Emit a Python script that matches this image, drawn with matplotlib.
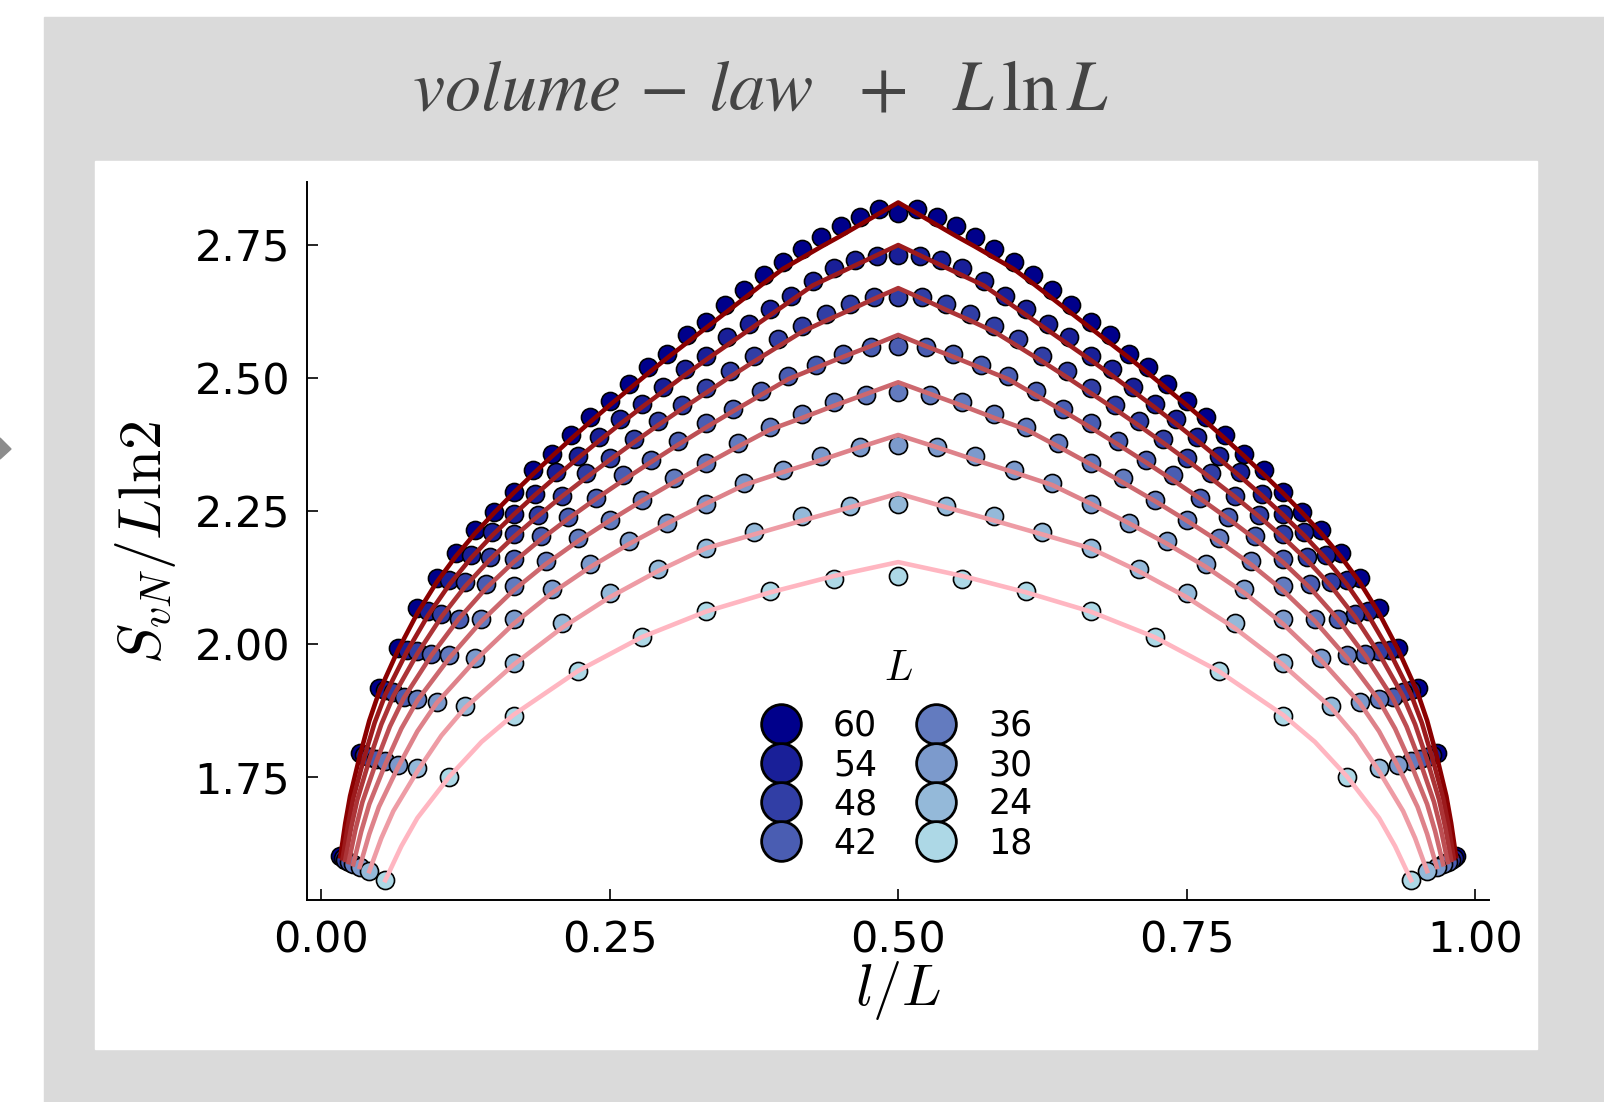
import numpy as np
import matplotlib
matplotlib.use('Agg')
import matplotlib.pyplot as plt
from matplotlib.patches import Rectangle, Polygon
from matplotlib.ticker import FormatStrFormatter

plt.rcParams['mathtext.fontset'] = 'cm'

W, H = 1604, 1102

# system sizes, plotted from largest to smallest
sizes = [60, 54, 48, 42, 36, 30, 24, 18]

data = {
    60: [1.600, 1.794, 1.916, 1.992, 2.066, 2.123, 2.170, 2.213, 2.248, 2.285,
         2.327, 2.356, 2.392, 2.426, 2.455, 2.487, 2.520, 2.545, 2.580, 2.605,
         2.636, 2.664, 2.692, 2.717, 2.742, 2.765, 2.784, 2.802, 2.816, 2.809,
         2.816, 2.802, 2.784, 2.765, 2.742, 2.717, 2.692, 2.664, 2.636, 2.605,
         2.580, 2.545, 2.520, 2.487, 2.455, 2.426, 2.392, 2.356, 2.327, 2.285,
         2.248, 2.213, 2.170, 2.123, 2.066, 1.992, 1.916, 1.794, 1.600],
    54: [1.596, 1.790, 1.912, 1.988, 2.062, 2.119, 2.166, 2.209, 2.244, 2.281,
         2.323, 2.352, 2.388, 2.422, 2.451, 2.483, 2.516, 2.541, 2.576, 2.601,
         2.628, 2.654, 2.681, 2.705, 2.720, 2.728, 2.730,
         2.728, 2.720, 2.705, 2.681, 2.654, 2.628, 2.601, 2.576, 2.541, 2.516,
         2.483, 2.451, 2.422, 2.388, 2.352, 2.323, 2.281, 2.244, 2.209, 2.166,
         2.119, 2.062, 1.988, 1.912, 1.790, 1.596],
    48: [1.593, 1.787, 1.909, 1.985, 2.056, 2.116, 2.163, 2.206, 2.241, 2.278,
         2.320, 2.349, 2.385, 2.419, 2.448, 2.480, 2.513, 2.541, 2.573, 2.596,
         2.620, 2.638, 2.651, 2.652,
         2.651, 2.638, 2.620, 2.596, 2.573, 2.541, 2.513, 2.480, 2.448, 2.419,
         2.385, 2.349, 2.320, 2.278, 2.241, 2.206, 2.163, 2.116, 2.056, 1.985,
         1.909, 1.787, 1.593],
    42: [1.590, 1.783, 1.900, 1.981, 2.047, 2.112, 2.159, 2.202, 2.237, 2.274,
         2.316, 2.345, 2.381, 2.415, 2.441, 2.474, 2.503, 2.524, 2.545, 2.558,
         2.560,
         2.558, 2.545, 2.524, 2.503, 2.474, 2.441, 2.415, 2.381, 2.345, 2.316,
         2.274, 2.237, 2.202, 2.159, 2.112, 2.047, 1.981, 1.900, 1.783, 1.590],
    36: [1.586, 1.779, 1.896, 1.978, 2.047, 2.108, 2.155, 2.198, 2.233, 2.270,
         2.312, 2.340, 2.377, 2.407, 2.432, 2.454, 2.467, 2.473,
         2.467, 2.454, 2.432, 2.407, 2.377, 2.340, 2.312, 2.270, 2.233, 2.198,
         2.155, 2.108, 2.047, 1.978, 1.896, 1.779, 1.586],
    30: [1.580, 1.772, 1.890, 1.972, 2.046, 2.103, 2.150, 2.193, 2.227, 2.263,
         2.302, 2.327, 2.353, 2.370, 2.373,
         2.370, 2.353, 2.327, 2.302, 2.263, 2.227, 2.193, 2.150, 2.103, 2.046,
         1.972, 1.890, 1.772, 1.580],
    24: [1.572, 1.766, 1.882, 1.964, 2.038, 2.095, 2.140, 2.180, 2.210, 2.239,
         2.258, 2.263,
         2.258, 2.239, 2.210, 2.180, 2.140, 2.095, 2.038, 1.964, 1.882, 1.766,
         1.572],
    18: [1.555, 1.749, 1.863, 1.948, 2.012, 2.062, 2.098, 2.121, 2.127,
         2.121, 2.098, 2.062, 2.012, 1.948, 1.863, 1.749, 1.555],
}

# fitted curves (volume-law + L ln L), read on a finer grid near both ends:
# l = 1, 1.25, 1.5, 2, 2.5, 3, 4, ..., L-3, L-2.5, L-2, L-1.5, L-1.25, L-1
fit_ends = [1, 1.25, 1.5, 2, 2.5]
fits = {
    60: [1.600, 1.662, 1.713, 1.788, 1.855, 1.908, 1.988, 2.057, 2.115, 2.164,
         2.207, 2.246, 2.283, 2.318, 2.352, 2.385, 2.417, 2.448, 2.478, 2.508,
         2.537, 2.565, 2.593, 2.621, 2.649, 2.677, 2.704, 2.725, 2.746, 2.766,
         2.787, 2.808, 2.829,
         2.808, 2.787, 2.766, 2.746, 2.725, 2.704, 2.677, 2.649, 2.621, 2.593,
         2.565, 2.537, 2.508, 2.478, 2.448, 2.417, 2.385, 2.352, 2.318, 2.283,
         2.246, 2.207, 2.164, 2.115, 2.057, 1.988, 1.908, 1.855, 1.788, 1.713,
         1.662, 1.600],
    54: [1.596, 1.658, 1.709, 1.784, 1.851, 1.904, 1.984, 2.053, 2.111, 2.160,
         2.203, 2.242, 2.279, 2.314, 2.348, 2.381, 2.413, 2.444, 2.474, 2.504,
         2.533, 2.561, 2.589, 2.617, 2.645, 2.673, 2.692, 2.711, 2.730, 2.749,
         2.730, 2.711, 2.692, 2.673, 2.645, 2.617, 2.589, 2.561, 2.533, 2.504,
         2.474, 2.444, 2.413, 2.381, 2.348, 2.314, 2.279, 2.242, 2.203, 2.160,
         2.111, 2.053, 1.984, 1.904, 1.851, 1.784, 1.709, 1.658, 1.596],
    48: [1.593, 1.655, 1.706, 1.781, 1.848, 1.901, 1.981, 2.050, 2.108, 2.157,
         2.200, 2.239, 2.276, 2.311, 2.345, 2.378, 2.410, 2.441, 2.471, 2.501,
         2.530, 2.558, 2.586, 2.607, 2.627, 2.648, 2.668,
         2.648, 2.627, 2.607, 2.586, 2.558, 2.530, 2.501, 2.471, 2.441, 2.410,
         2.378, 2.345, 2.311, 2.276, 2.239, 2.200, 2.157, 2.108, 2.050, 1.981,
         1.901, 1.848, 1.781, 1.706, 1.655, 1.593],
    42: [1.589, 1.651, 1.702, 1.777, 1.844, 1.897, 1.977, 2.046, 2.104, 2.153,
         2.196, 2.235, 2.272, 2.307, 2.341, 2.374, 2.406, 2.437, 2.467, 2.497,
         2.518, 2.539, 2.559, 2.580,
         2.559, 2.539, 2.518, 2.497, 2.467, 2.437, 2.406, 2.374, 2.341, 2.307,
         2.272, 2.235, 2.196, 2.153, 2.104, 2.046, 1.977, 1.897, 1.844, 1.777,
         1.702, 1.651, 1.589],
    36: [1.585, 1.647, 1.698, 1.773, 1.840, 1.893, 1.973, 2.042, 2.100, 2.149,
         2.192, 2.231, 2.268, 2.303, 2.337, 2.370, 2.402, 2.424, 2.447, 2.469,
         2.491,
         2.469, 2.447, 2.424, 2.402, 2.370, 2.337, 2.303, 2.268, 2.231, 2.192,
         2.149, 2.100, 2.042, 1.973, 1.893, 1.840, 1.773, 1.698, 1.647, 1.585],
    30: [1.580, 1.642, 1.693, 1.768, 1.835, 1.888, 1.968, 2.037, 2.095, 2.144,
         2.187, 2.226, 2.263, 2.298, 2.322, 2.345, 2.369, 2.392,
         2.369, 2.345, 2.322, 2.298, 2.263, 2.226, 2.187, 2.144, 2.095, 2.037,
         1.968, 1.888, 1.835, 1.768, 1.693, 1.642, 1.580],
    24: [1.572, 1.634, 1.685, 1.760, 1.827, 1.880, 1.960, 2.029, 2.087, 2.136,
         2.179, 2.205, 2.231, 2.256, 2.282,
         2.256, 2.231, 2.205, 2.179, 2.136, 2.087, 2.029, 1.960, 1.880, 1.827,
         1.760, 1.685, 1.634, 1.572],
    18: [1.555, 1.619, 1.672, 1.750, 1.815, 1.866, 1.948, 2.012, 2.060, 2.096,
         2.127, 2.153,
         2.127, 2.096, 2.060, 2.012, 1.948, 1.866, 1.815, 1.750, 1.672, 1.619,
         1.555],
}

# darkblue -> lightblue for markers, darkred -> lightpink for fits
marker_colors = ['#00008b', '#191f98', '#313ea5', '#4a5db2',
                 '#637bbf', '#7c9acc', '#94b9d9', '#add8e6']
line_colors = ['#8b0000', '#9c1a1c', '#ac3437', '#bd4e53',
               '#cd686e', '#de828a', '#ee9ca5', '#ffb6c1']

fig = plt.figure(figsize=(W / 100, H / 100), dpi=100)
fig.patch.set_facecolor('white')

# grey frame + white panel, kept behind the axes
fig.patches.append(Rectangle((44 / W, 0), 1 - 44 / W, 1 - 17 / H,
                             transform=fig.transFigure, color='#dadada', zorder=-10))
fig.patches.append(Rectangle((95 / W, 1 - 1049 / H), (1537 - 95) / W, (1049 - 161) / H,
                             transform=fig.transFigure, color='white', zorder=-9))
fig.patches.append(Polygon([(0, 1 - 438 / H), (11 / W, 1 - 449 / H), (0, 1 - 459 / H)],
                           closed=True, transform=fig.transFigure,
                           color='#8c8c8c', zorder=-8))

ax = fig.add_axes([306.9 / W, 1 - 900.3 / H, (1488.5 - 306.9) / W, (900.3 - 182) / H])
ax.set_zorder(5)
ax.patch.set_alpha(0)

for L, mc in zip(sizes, marker_colors):
    x = np.arange(1, L) / L
    ax.plot(x, data[L], 'o', ls='none', ms=13, mfc=mc, mec='black', mew=1.2,
            label=str(L), zorder=2)

for L, lc in zip(sizes, line_colors):
    l_grid = np.concatenate([fit_ends, np.arange(3, L - 2), L - np.array(fit_ends[::-1])])
    ax.plot(l_grid / L, fits[L], '-', color=lc, lw=3.3, zorder=3)

ax.set_xlim(-0.0124, 1.0115)
ax.set_ylim(1.5173, 2.8675)
ax.set_xticks([0.0, 0.25, 0.5, 0.75, 1.0])
ax.set_yticks([1.75, 2.0, 2.25, 2.5, 2.75])
ax.xaxis.set_major_formatter(FormatStrFormatter('%.2f'))
ax.yaxis.set_major_formatter(FormatStrFormatter('%.2f'))
ax.tick_params(direction='in', length=8, width=1.2, labelsize=31)
ax.tick_params(axis='y', pad=12)
ax.tick_params(axis='x', pad=14)
for s in ['top', 'right']:
    ax.spines[s].set_visible(False)
for s in ['left', 'bottom']:
    ax.spines[s].set_linewidth(1.4)

fig.text(897.7 / W, 1 - 990 / H, r'$l/L$', ha='center', va='center', fontsize=42)
fig.text(146 / W, 1 - 542 / H, r'$S_{vN}/L\mathrm{ln}2$', ha='center', va='center',
         fontsize=43, rotation=90)
fig.text(760 / W, 1 - 90 / H, r'$volume\,-\,law\ \ +\ \ L\,\ln L$',
         ha='center', va='center', fontsize=52, color='#444444',
         math_fontfamily='stix')

leg = ax.legend(ncol=2, frameon=False, title=r'$L$', fontsize=25, title_fontsize=30,
                markerscale=2.2, handlelength=1.0, handletextpad=1.0,
                columnspacing=1.2, labelspacing=0.15,
                loc='center', bbox_to_anchor=(898 / W, 1 - 754 / H),
                bbox_transform=fig.transFigure)
leg._legend_box.sep = 14
for h in leg.legend_handles:
    h.set_markeredgewidth(2.0)

fig.savefig('out.png', dpi=100, facecolor=fig.get_facecolor())
